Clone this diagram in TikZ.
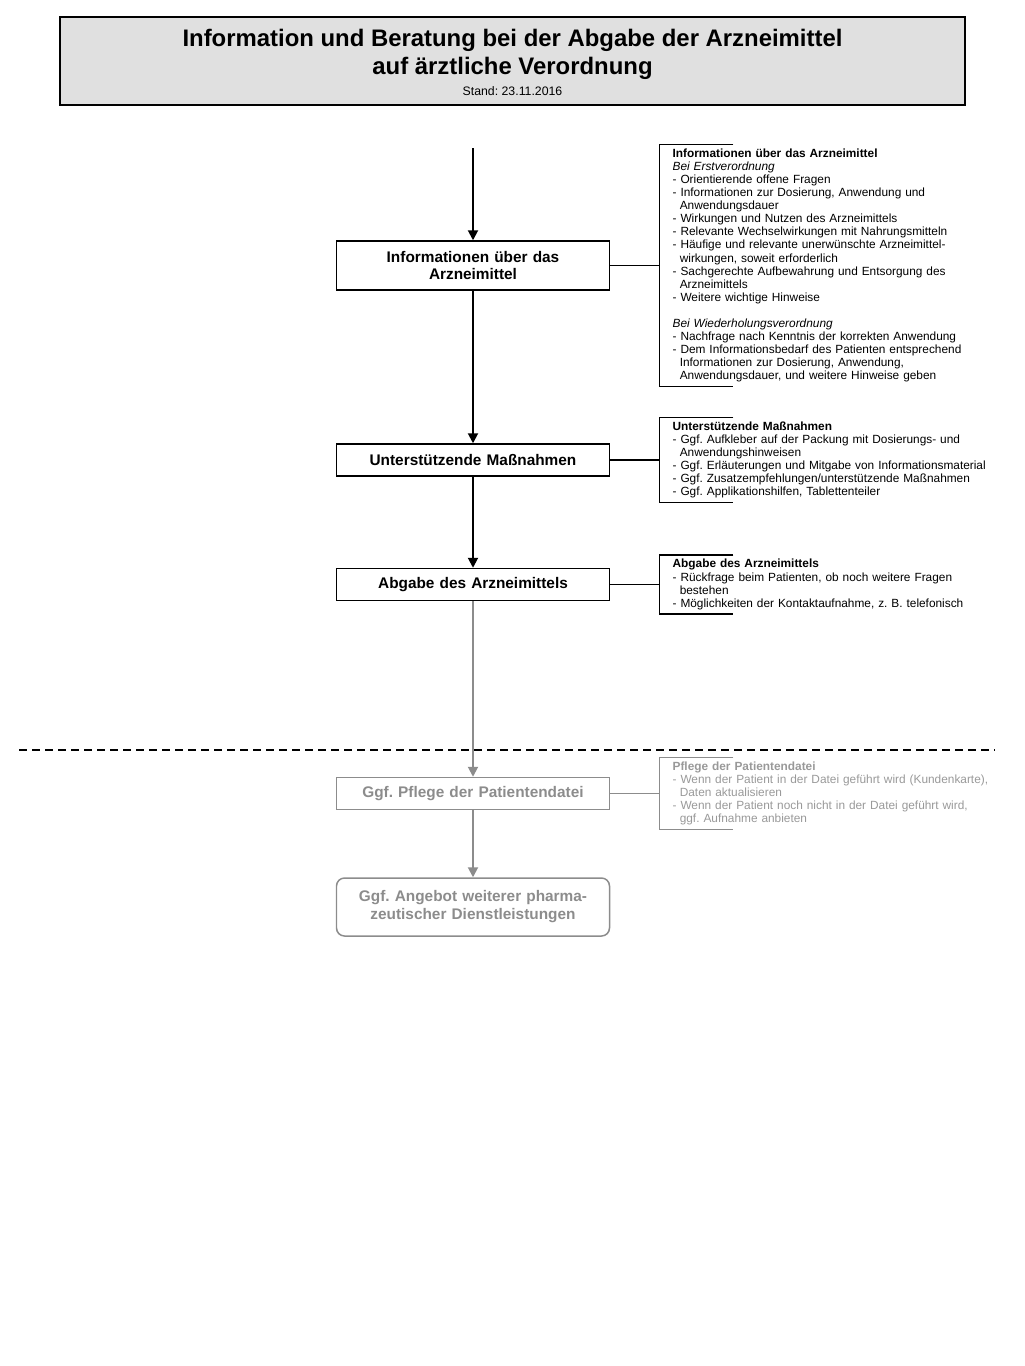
\documentclass[tikz,border=0pt]{standalone}
\usepackage{fontspec}
\setmainfont{Liberation Sans}
\usepackage{tikz}
\usetikzlibrary{positioning, arrows.meta}
\frenchspacing
\definecolor{headgray}{gray}{0.88}
\definecolor{softgray}{gray}{0.55}
\definecolor{notegray}{gray}{0.6}
\newcommand{\cont}{\hspace*{4.1pt}} %--hanging indent after "- "
\tikzstyle{header} = [draw, rectangle, line width=1.1pt, fill=headgray, minimum width=18.1cm, minimum height=1.76cm]
\tikzstyle{block} = [draw, rectangle, line width=0.85pt, minimum width=5.46cm, minimum height=0.64cm, text width=5.2cm, align=center, inner sep=2pt, font=\fontsize{8.75}{10.2}\selectfont\bfseries]
\tikzstyle{grayblock} = [block, draw=softgray, text=softgray]
\tikzstyle{note} = [rectangle, align=left, text width=6.8cm, inner xsep=0.26cm, inner ysep=0.08cm, font=\fontsize{6.75}{7.43}\selectfont]
\tikzstyle{bracket} = [line width=0.85pt]
\tikzstyle{wire} = [-{Triangle[length=0.2cm,width=0.2cm]}, line width=1.1pt]
\tikzstyle{graywire} = [wire, draw=softgray, fill=softgray]
\tikzstyle{divider} = [line width=1.1pt, dash pattern=on 0.16cm off 0.1cm]

\begin{document}
\begin{tikzpicture}
    \useasboundingbox (0,0) rectangle (20.48,-27.32);
    \node[header] (head) at (10.25,-1.22) {};
    \node[align=center, font=\fontsize{13.6}{15.9}\selectfont\bfseries] (title) at (10.25,-1.08) {Information und Beratung bei der Abgabe der Arzneimittel\\auf ärztliche Verordnung};
    \node[font=\fontsize{7}{8}\selectfont, below of=title, node distance=0.74cm] (stand) {Stand: 23.11.2016};

    \coordinate (start) at (9.46,-2.96);
    \node[block, minimum height=0.98cm] (info) at (9.46,-5.31) {Informationen über das\\Arzneimittel};
    \node[block, below of=info, node distance=3.89cm] (support) {Unterstützende Maßnahmen};
    \node[block, below of=support, node distance=2.49cm] (handout) {Abgabe des Arzneimittels};
    \node[grayblock, below of=handout, node distance=4.18cm] (file) {Ggf. Pflege der Patientendatei};
    \node[grayblock, rounded corners=0.16cm, minimum height=1.16cm, below of=file, node distance=2.27cm] (service) {Ggf. Angebot weiterer pharma-\\zeutischer Dienstleistungen};

    \draw[wire] (start) -- (info);
    \draw[wire] (info) -- (support);
    \draw[wire] (support) -- (handout);
    \draw[graywire] (handout) -- (file);
    \draw[graywire] (file) -- (service);

    \draw[divider] (0.38,-15.0) -- (19.9,-15.0);

    \node[note, right=0.98cm of info] (infonote) {\textbf{Informationen über das Arzneimittel}\\
      \textit{Bei Erstverordnung}\\
      - Orientierende offene Fragen\\
      - Informationen zur Dosierung, Anwendung und\\
      \cont Anwendungsdauer\\
      - Wirkungen und Nutzen des Arzneimittels\\
      - Relevante Wechselwirkungen mit Nahrungsmitteln\\
      - Häufige und relevante unerwünschte Arzneimittel-\\
      \cont wirkungen, soweit erforderlich\\
      - Sachgerechte Aufbewahrung und Entsorgung des\\
      \cont Arzneimittels\\
      - Weitere wichtige Hinweise\\[7.43pt]
      \textit{Bei Wiederholungsverordnung}\\
      - Nachfrage nach Kenntnis der korrekten Anwendung\\
      - Dem Informationsbedarf des Patienten entsprechend\\
      \cont Informationen zur Dosierung, Anwendung,\\
      \cont Anwendungsdauer, und weitere Hinweise geben};
    \node[note, right=0.98cm of support] (supportnote) {\textbf{Unterstützende Maßnahmen}\\
      - Ggf. Aufkleber auf der Packung mit Dosierungs- und\\
      \cont Anwendungshinweisen\\
      - Ggf. Erläuterungen und Mitgabe von Informationsmaterial\\
      - Ggf. Zusatzempfehlungen/unterstützende Maßnahmen\\
      - Ggf. Applikationshilfen, Tablettenteiler};
    \node[note, right=0.98cm of handout] (handoutnote) {\textbf{Abgabe des Arzneimittels}\\
      - Rückfrage beim Patienten, ob noch weitere Fragen\\
      \cont bestehen\\
      - Möglichkeiten der Kontaktaufnahme, z. B. telefonisch};
    \node[note, text=notegray, right=0.98cm of file] (filenote) {\textbf{Pflege der Patientendatei}\\
      - Wenn der Patient in der Datei geführt wird (Kundenkarte),\\
      \cont Daten aktualisieren\\
      - Wenn der Patient noch nicht in der Datei geführt wird,\\
      \cont ggf. Aufnahme anbieten};

    \draw[bracket] (info) -- (infonote);
    \draw[bracket] ([xshift=1.48cm]infonote.north west) -- (infonote.north west) -- (infonote.south west) -- ++(1.48cm,0);
    \draw[bracket] (support) -- (supportnote);
    \draw[bracket] ([xshift=1.48cm]supportnote.north west) -- (supportnote.north west) -- (supportnote.south west) -- ++(1.48cm,0);
    \draw[bracket] (handout) -- (handoutnote);
    \draw[bracket] ([xshift=1.48cm]handoutnote.north west) -- (handoutnote.north west) -- (handoutnote.south west) -- ++(1.48cm,0);
    \draw[bracket, softgray] (file) -- (filenote);
    \draw[bracket, softgray] ([xshift=1.48cm]filenote.north west) -- (filenote.north west) -- (filenote.south west) -- ++(1.48cm,0);
\end{tikzpicture}
\end{document}
